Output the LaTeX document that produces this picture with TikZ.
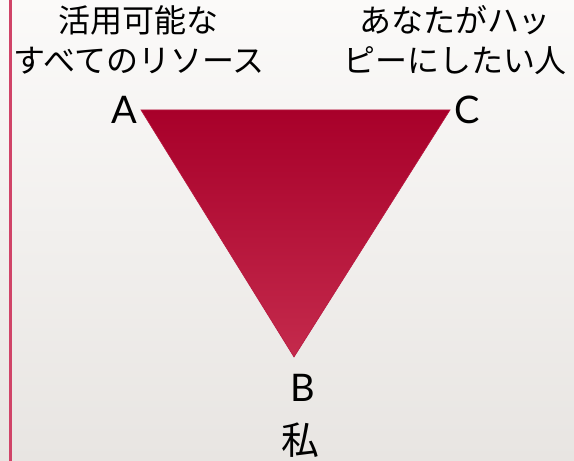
\documentclass[tikz,border=0pt]{standalone}
\usepackage{fontspec}
\newfontfamily\cjk{Noto Sans CJK JP}
\newfontfamily\latin{Lato}
\definecolor{tritop}{HTML}{A8002A}
\definecolor{tribot}{HTML}{C42A4C}
\definecolor{triedge}{HTML}{B81840}
\definecolor{leftbar}{HTML}{D04468}
\definecolor{bgtop}{HTML}{FBFAF9}
\definecolor{bgbot}{HTML}{E8E5E2}
\begin{document}
\begin{tikzpicture}[x=1pt,y=1pt,
  jp/.style={font=\cjk\fontsize{32}{40}\selectfont, text=black, align=center, inner sep=0pt},
  letter/.style={font=\latin\fontsize{38}{40}\selectfont, text=black, inner sep=0pt}]
\useasboundingbox (0,0) rectangle (574,461);
\shade[top color=bgtop, bottom color=bgbot] (0,0) rectangle (574,461);
\fill[leftbar] (9,0) rectangle (11.5,461);
\coordinate (A) at (141,351);
\coordinate (C) at (450,351);
\coordinate (B) at (294,104);
\shade[top color=tritop, bottom color=tribot, draw=triedge, line width=0.6pt] (A) -- (C) -- (B) -- cycle;
\node[letter, anchor=base] (la) at (124,337) {A};
\node[letter, anchor=base] (lc) at (467,337) {C};
\node[letter, anchor=base] (lb) at (303,59) {B};
\node[jp, anchor=base, font=\cjk\fontsize{38}{40}\selectfont] (me) at (300,6) {私};
\node[jp, anchor=base] (r1) at (139,428) {活用可能な};
\node[jp, anchor=base] (r2) at (139,388) {すべてのリソース};
\node[jp, anchor=base] (h1) at (455,428) {あなたがハッ};
\node[jp, anchor=base] (h2) at (455,388) {ピーにしたい人};
\end{tikzpicture}
\end{document}
